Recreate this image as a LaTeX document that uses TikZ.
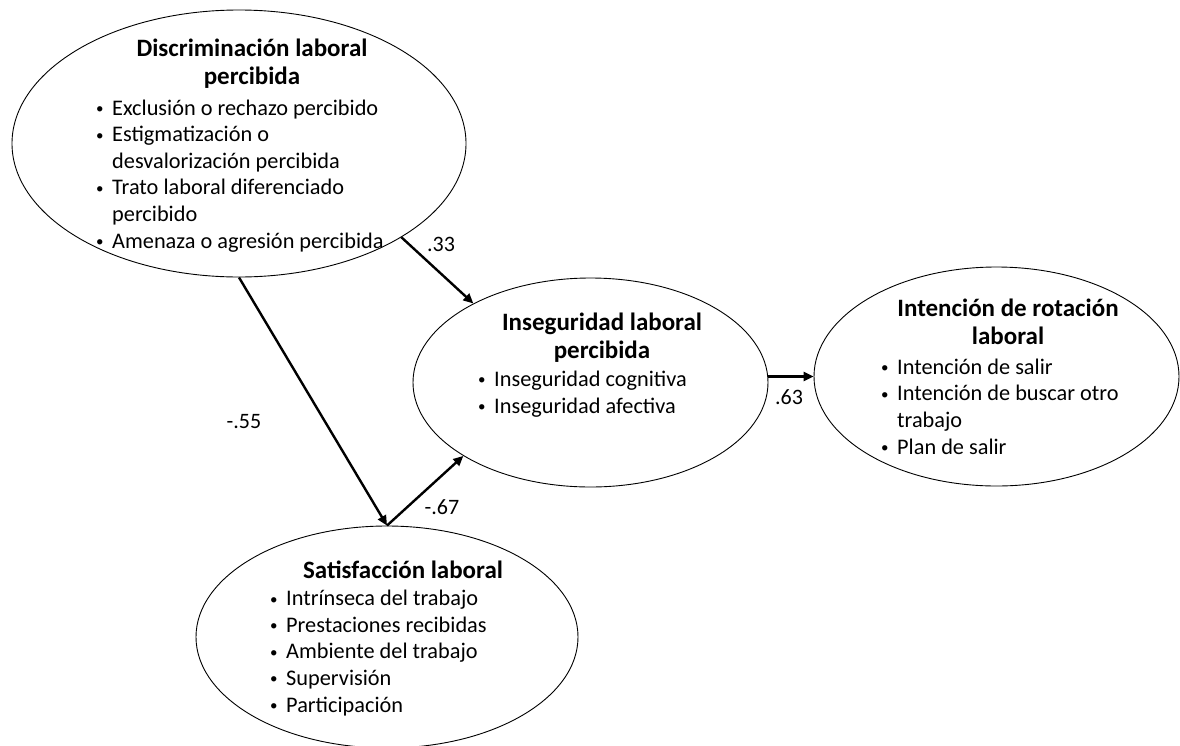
\documentclass[tikz,border=0pt]{standalone}
\usepackage{fontspec}
\setmainfont{Carlito}
\usetikzlibrary{shapes.geometric,arrows.meta}

% bullet line and its hanging continuation
\newcommand{\bulmark}{\raisebox{1.5pt}{\fontsize{15}{15}\selectfont\textbullet}}
\newcommand{\bulitem}[1]{\makebox[16pt][l]{\bulmark}#1}
\newcommand{\bulcont}[1]{\hspace*{16pt}#1}

\tikzset{
  construct/.style={ellipse, draw, line width=0.9pt, inner sep=0pt},
  heading/.style={font=\fontsize{25}{28}\selectfont\bfseries, align=center, anchor=base, inner sep=0pt},
  items/.style={font=\fontsize{22.3}{26.6}\selectfont, align=left, anchor=base west, inner sep=0pt},
  path/.style={line width=2.4pt, -{Triangle[length=10pt,width=9pt]}},
  coef/.style={font=\fontsize{22}{26}\selectfont, anchor=base, inner sep=0pt}
}

\begin{document}
\begin{tikzpicture}[x=1pt,y=-1pt]
\useasboundingbox (0,0) rectangle (1180,745);

% latent constructs
\node[construct, minimum width=454pt, minimum height=267pt] (disc) at (239,143.5) {};
\node[construct, minimum width=355pt, minimum height=209pt] (ins) at (590.5,382.5) {};
\node[construct, minimum width=365pt, minimum height=219pt] (rot) at (996.5,376.5) {};
\node[construct, minimum width=382pt, minimum height=222pt] (sat) at (387,637) {};

% construct texts (anchored at the baseline of their last line)
\node[heading] (discT) at (252,84) {Discriminación laboral\\percibida};
\node[items] (discL) at (96,248) {\bulitem{Exclusión o rechazo percibido}\\
  \bulitem{Estigmatización o}\\
  \bulcont{desvalorización percibida}\\
  \bulitem{Trato laboral diferenciado}\\
  \bulcont{percibido}\\
  \bulitem{Amenaza o agresión percibida}};

\node[heading] (insT) at (602,358) {Inseguridad laboral\\percibida};
\node[items] (insL) at (478,413) {\bulitem{Inseguridad cognitiva}\\
  \bulitem{Inseguridad afectiva}};

\node[heading] (rotT) at (1008,344) {Intención de rotación\\laboral};
\node[items] (rotL) at (881,454) {\bulitem{Intención de salir}\\
  \bulitem{Intención de buscar otro}\\
  \bulcont{trabajo}\\
  \bulitem{Plan de salir}};

\node[heading] (satT) at (403,578) {Satisfacción laboral};
\node[items] (satL) at (270,712) {\bulitem{Intrínseca del trabajo}\\
  \bulitem{Prestaciones recibidas}\\
  \bulitem{Ambiente del trabajo}\\
  \bulitem{Supervisión}\\
  \bulitem{Participación}};

% structural paths
\draw[path] (disc.-30.4) -- (ins.146);
\draw[path] (disc.south) -- (sat.north);
\draw[path] (sat.north) -- (ins.210);
\draw[path] (rot.west -| ins.east) -- (rot.west);

% path coefficients
\node[coef] (c1) at (441,251) {.33};
\node[coef] (c2) at (244,428) {-.55};
\node[coef] (c3) at (442,514) {-.67};
\node[coef] (c4) at (789,404) {.63};
\end{tikzpicture}
\end{document}
